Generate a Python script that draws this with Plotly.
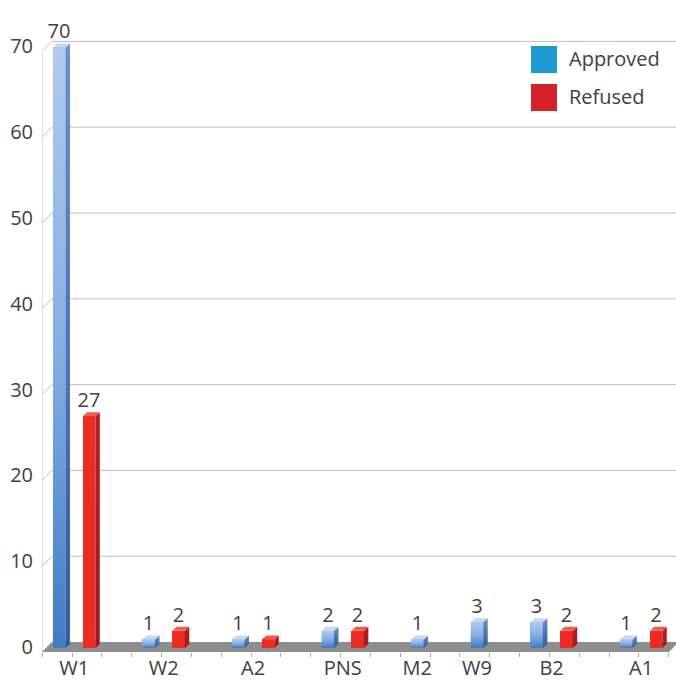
import plotly.graph_objects as go

# ---- data -------------------------------------------------------------
categories = ["W1", "W2", "A2", "PNS", "M2", "W9", "B2", "A1"]
approved = [70, 1, 1, 2, 1, 3, 3, 1]
refused = [27, 2, 1, 2, None, None, 2, 2]
series_names = ["Approved", "Refused"]
y_ticks = [0, 10, 20, 30, 40, 50, 60, 70]

# ---- page geometry (pixels) -------------------------------------------
W, H = 676, 682
M_L, M_R, M_T, M_B = 42, 0, 0, 30
PLOT_W = W - M_L - M_R
PLOT_H = H - M_T - M_B
SLOT_PX = 29.84        # width of one column slot
FIRST_SLOT_PX = 59.2   # page x of the first slot centre
UNIT_PX = 8.58         # pixels per count on the column face plane
ZERO_PX = 648          # page y of 0 on the column face plane
BAR_PX = 12.5          # column face width
DEPTH_PX = (4.5, 4.0)  # column depth offset (right, up)
WALL_PX = 10.0         # wall / floor depth offset (right and up)

FONT = "Open Sans"
TEXT = "#404040"
GRID = "#bfbfbf"

# axis ranges derived so that data units line up with the page grid
x0 = (M_L - FIRST_SLOT_PX) / SLOT_PX
x1 = (W - M_R - FIRST_SLOT_PX) / SLOT_PX
y0 = (ZERO_PX - (M_T + PLOT_H)) / UNIT_PX
y1 = (ZERO_PX - M_T) / UNIT_PX

bar_w = BAR_PX / SLOT_PX
ddx, ddy = DEPTH_PX[0] / SLOT_PX, DEPTH_PX[1] / UNIT_PX
wdx, wdy = WALL_PX / SLOT_PX, WALL_PX / UNIT_PX

# ---- slot layout: one slot per column, an empty slot between groups ----
slot = 0
pos = {name: [] for name in series_names}
centres = []
for a, r in zip(approved, refused):
    used = []
    for name, v in zip(series_names, (a, r)):
        if v is None:
            pos[name].append(None)
        else:
            pos[name].append(slot)
            used.append(slot)
            slot += 1
    centres.append(sum(used) / len(used))
    slot += 1
last_slot = slot - 2

values = {"Approved": approved, "Refused": refused}
style = {
    "Approved": dict(face="#7ea6dd", grad=[[0, "#3f7bc6"], [0.5, "#86aee3"], [1, "#b0caef"]],
                     side=[[0, "#2c5d9e"], [1, "#6b8fc4"]], top="#c5d8f3", legend="#1e9ad2"),
    "Refused": dict(face="#ec2c22", grad=None,
                    side=[[0, "#a3171b"], [1, "#b5201f"]], top="#f25a4c", legend="#d42127"),
}

fig = go.Figure()

# front faces as real bars with value labels
for name in series_names:
    xs = [p for p, v in zip(pos[name], values[name]) if v is not None]
    ys = [v for v in values[name] if v is not None]
    fig.add_trace(go.Bar(
        x=xs, y=ys, width=bar_w, name=name,
        marker=dict(color=style[name]["face"], line=dict(width=0)),
        text=[str(v) for v in ys], textposition="outside", cliponaxis=False,
        constraintext="none",
        textfont=dict(family=FONT, size=20, color=TEXT),
        showlegend=False, hoverinfo="x+y",
    ))

# 3-D faces of each column
def poly(pts, **kw):
    xs = [p[0] for p in pts] + [pts[0][0]]
    ys = [p[1] for p in pts] + [pts[0][1]]
    fig.add_trace(go.Scatter(x=xs, y=ys, mode="lines", fill="toself",
                             line=dict(width=0), hoverinfo="skip",
                             showlegend=False, **kw))

for name in series_names:
    st = style[name]
    for c, v in zip(pos[name], values[name]):
        if v is None:
            continue
        left, right = c - bar_w / 2, c + bar_w / 2
        if st["grad"]:
            poly([(left, 0), (right, 0), (right, v), (left, v)],
                 fillgradient=dict(type="vertical", colorscale=st["grad"]))
        poly([(right, 0), (right + ddx, ddy), (right + ddx, v + ddy), (right, v)],
             fillgradient=dict(type="vertical", colorscale=st["side"]))
        poly([(left, v), (right, v), (right + ddx, v + ddy), (left + ddx, v + ddy)],
             fillcolor=st["top"])

# back wall grid, side-wall diagonals, axis line and floor
shapes = []
floor_end = last_slot + 0.43
shapes.append(dict(type="path", xref="x", yref="y", layer="below",
                   path=f"M {x0},{y0} L {floor_end},{y0} L {floor_end + wdx},{y0 + wdy} "
                        f"L {x0 + wdx},{y0 + wdy} Z",
                   fillcolor="#8e8e8e", line=dict(width=0)))
for t in y_ticks:
    shapes.append(dict(type="line", xref="x", yref="y", layer="below",
                       x0=x0, y0=t + y0, x1=x0 + wdx, y1=t + y0 + wdy,
                       line=dict(color=GRID, width=1)))
    if t > 0:
        shapes.append(dict(type="line", xref="x", yref="y", layer="below",
                           x0=x0 + wdx, y0=t + y0 + wdy, x1=x1, y1=t + y0 + wdy,
                           line=dict(color=GRID, width=1)))
shapes.append(dict(type="line", xref="x", yref="y", layer="below",
                   x0=x0, y0=y0, x1=x0, y1=y_ticks[-1] + y0,
                   line=dict(color=GRID, width=1)))

# legend: large square swatches
annotations = []
for i, name in enumerate(series_names):
    top_px = 46 + i * 38
    shapes.append(dict(type="rect", xref="paper", yref="paper",
                       x0=(531 - M_L) / PLOT_W, x1=(557 - M_L) / PLOT_W,
                       y0=1 - (top_px + 27 - M_T) / PLOT_H, y1=1 - (top_px - M_T) / PLOT_H,
                       fillcolor=style[name]["legend"], line=dict(width=0)))
    annotations.append(dict(xref="paper", yref="paper", x=(567 - M_L) / PLOT_W,
                            y=1 - (top_px + 12.5 - M_T) / PLOT_H,
                            xanchor="left", yanchor="middle", showarrow=False,
                            text=name, font=dict(family=FONT, size=20, color=TEXT)))

fig.update_layout(
    width=W, height=H,
    margin=dict(l=M_L, r=M_R, t=M_T, b=M_B, autoexpand=False),
    paper_bgcolor="white", plot_bgcolor="white",
    barmode="overlay", bargap=0,
    shapes=shapes, annotations=annotations,
    font=dict(family=FONT, size=20, color=TEXT),
    xaxis=dict(range=[x0, x1], tickvals=centres, ticktext=categories,
               automargin=False,
               showgrid=False, zeroline=False, showline=False,
               ticks="", ticklabelstandoff=2,
               tickfont=dict(family=FONT, size=20, color=TEXT),
               minor=dict(ticks="outside", ticklen=4, tickcolor="#a6a6a6",
                          tick0=0.43, dtick=1, showgrid=False)),
    yaxis=dict(range=[y0, y1], tickvals=y_ticks, automargin=False,
               showgrid=False, zeroline=False, showline=False,
               ticks="", ticklabelstandoff=8, ticklabelshift=-1,
               tickfont=dict(family=FONT, size=20, color=TEXT)),
    showlegend=False,
)

fig.write_html("out.html")
